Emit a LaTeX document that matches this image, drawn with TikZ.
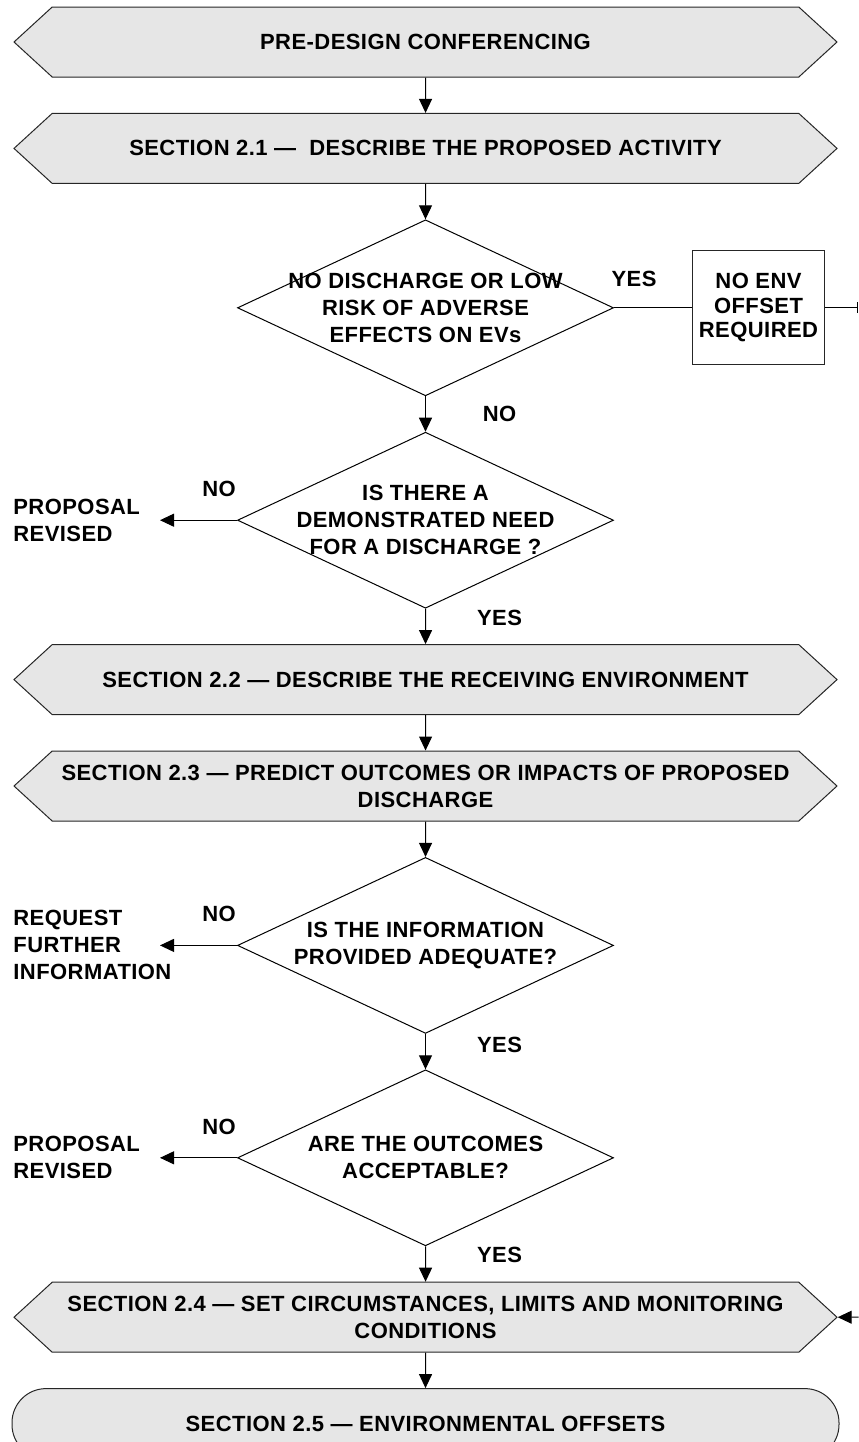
\documentclass[tikz,border=0pt]{standalone}
\usepackage{fontspec}
\setmainfont{Liberation Sans}[LetterSpace=2.0]
\usetikzlibrary{arrows.meta,positioning,shapes.geometric,shapes.symbols}
\definecolor{secgray}{HTML}{E6E6E6}

\begin{document}
\begin{tikzpicture}[
  font=\fontsize{11}{13.5}\selectfont\bfseries,
  section/.style={signal, signal to=west and east, signal pointer angle=85,
                  draw=black!85, fill=secgray, line width=0.5pt,
                  minimum width=411.5pt, minimum height=35pt, inner sep=0pt, align=center},
  decision/.style={diamond, draw=black, line width=0.5pt,
                   minimum width=188pt, minimum height=88pt, inner sep=0pt},
  qtext/.style={align=center, inner sep=0pt},
  outbox/.style={draw=black!85, line width=0.5pt, minimum width=66pt, minimum height=57pt,
                 align=center, inner sep=0pt, font=\fontsize{11}{12.3}\selectfont\bfseries},
  side/.style={anchor=west, align=left, inner sep=0pt},
  lab/.style={inner sep=0pt},
  finish/.style={draw=black!85, fill=secgray, line width=0.5pt, rounded corners=17pt,
                 minimum width=413.5pt, minimum height=35pt, align=center},
  arr/.style={-{Triangle[length=7pt, width=6.5pt]}, line width=0.5pt},
  node distance=17.7pt
]
\useasboundingbox (0,0) rectangle (429pt,-721pt);

% main column
\node[section] (pre) at (212.75pt,-21pt) {PRE-DESIGN CONFERENCING};
\node[section, below=of pre] (s1) {SECTION 2.1 —\ \ DESCRIBE THE PROPOSED ACTIVITY};
\node[decision, below=of s1,
      label={[qtext]center:{NO DISCHARGE OR LOW\\RISK OF ADVERSE\\EFFECTS ON EVs}}] (q1) {};
\node[decision, below=of q1,
      label={[qtext]center:{IS THERE A\\DEMONSTRATED NEED\\FOR A DISCHARGE ?}}] (q2) {};
\node[section, below=of q2] (s2) {SECTION 2.2 — DESCRIBE THE RECEIVING ENVIRONMENT};
\node[section, below=of s2] (s3) {SECTION 2.3 — PREDICT OUTCOMES OR IMPACTS OF PROPOSED\\DISCHARGE};
\node[decision, below=of s3,
      label={[qtext]center:{IS THE INFORMATION\\PROVIDED ADEQUATE?}}] (q3) {};
\node[decision, below=of q3,
      label={[qtext]center:{ARE THE OUTCOMES\\ACCEPTABLE?}}] (q4) {};
\node[section, below=of q4] (s4) {SECTION 2.4 — SET CIRCUMSTANCES, LIMITS AND MONITORING\\CONDITIONS};
\node[finish, below=of s4] (s5) {SECTION 2.5 — ENVIRONMENTAL OFFSETS};

% side exits
\node[outbox, right=39pt of q1] (offs) {NO ENV\\OFFSET\\REQUIRED};
\node[side] (rev1) at ([xshift=-112pt]q2.west) {PROPOSAL\\REVISED};
\node[side] (req) at ([xshift=-112pt]q3.west) {REQUEST\\FURTHER\\INFORMATION};
\node[side] (rev2) at ([xshift=-112pt]q4.west) {PROPOSAL\\REVISED};
\coordinate (t1) at ([xshift=-38.5pt]q2.west);
\coordinate (t2) at ([xshift=-38.5pt]q3.west);
\coordinate (t3) at ([xshift=-38.5pt]q4.west);
\coordinate (rx) at ([xshift=16.5pt]offs.east);
\coordinate (ry) at ([xshift=10.5pt]s4.east);

% yes / no
\node[lab] (y1) at ([shift={(10pt,14.5pt)}]q1.east) {YES};
\node[lab] (n1) at ([shift={(37pt,-9pt)}]q1.south) {NO};
\node[lab] (n2) at ([shift={(-9pt,15.5pt)}]q2.west) {NO};
\node[lab] (y2) at ([shift={(37pt,-4.5pt)}]q2.south) {YES};
\node[lab] (n3) at ([shift={(-9pt,15.5pt)}]q3.west) {NO};
\node[lab] (y3) at ([shift={(37pt,-5.5pt)}]q3.south) {YES};
\node[lab] (n4) at ([shift={(-9pt,15.5pt)}]q4.west) {NO};
\node[lab] (y4) at ([shift={(37pt,-4.5pt)}]q4.south) {YES};

\draw[arr] (pre) -- (s1);
\draw[arr] (s1) -- (q1);
\draw[arr] (q1) -- (q2);
\draw[arr] (q2) -- (s2);
\draw[arr] (s2) -- (s3);
\draw[arr] (s3) -- (q3);
\draw[arr] (q3) -- (q4);
\draw[arr] (q4) -- (s4);
\draw[arr] (s4) -- (s5);
\draw[line width=0.5pt] (q1) -- (offs);
\draw[-{Bar[width=5.5pt]}, line width=0.5pt] (offs) -- (rx);
\draw[arr] (q2) -- (t1);
\draw[arr] (q3) -- (t2);
\draw[arr] (q4) -- (t3);
\draw[arr] (ry) -- (s4);
\end{tikzpicture}
\end{document}
